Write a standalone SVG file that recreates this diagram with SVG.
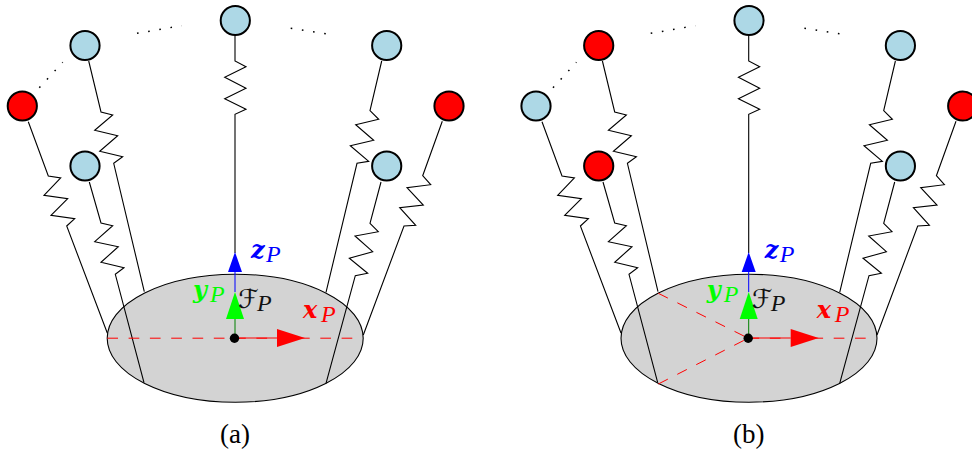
<svg xmlns="http://www.w3.org/2000/svg" width="972" height="454" viewBox="0 0 972 454">
<style>
.sp{fill:none;stroke:#000;stroke-width:1.1;stroke-linejoin:miter}
.dot{fill:none;stroke:#000;stroke-width:1.5;stroke-dasharray:1.6 9.7}
.dash{fill:none;stroke:#f00;stroke-width:1;stroke-dasharray:10.7 10.6}
.base{fill:#d3d3d3;stroke:#000;stroke-width:1.1}
.b{fill:#add8e6;stroke:#000;stroke-width:2}
.r{fill:#f00;stroke:#000;stroke-width:2}
.m{font-family:"DejaVu Serif","Liberation Serif",serif;font-style:italic;font-weight:bold;font-size:24px}
.s{font-family:"Liberation Serif","DejaVu Serif",serif;font-style:italic;font-weight:normal;font-size:24px}
.f{font-family:"DejaVu Sans","Liberation Serif",sans-serif;font-size:26px;fill:#111}
.c{font-family:"Liberation Serif",serif;font-size:27px;text-anchor:middle;fill:#000}
.xc{fill:#f00}.yc{fill:#0f0}.zc{fill:#00f}
</style>

<g id="panel-a-base"><ellipse class="base" cx="235.2" cy="338.2" rx="128" ry="64"/></g>
<g id="connectors-a">
<polyline class="sp" points="28.3,121.7 48.3,176 60.7,178 44,195.3 67.7,198.7 51,215.3 74.7,218.7 66.7,226 107.3,333"/>
<polyline class="sp" points="88.7,61 101,112 112.7,115 94.7,130.3 117.7,135.7 99.7,151.3 122.7,156.7 113.7,163.3 144.3,291.7"/>
<polyline class="sp" points="89.3,182 101,223 112.7,225.7 94.7,241.7 118.3,246.7 101,262.3 124,267.7 115.3,274.3 144,382.7"/>
<polyline class="sp" points="235,35 235,61 246,66.7 224.7,77.3 246,88.3 224.7,98.7 246,109.3 235,114.3 235,253"/>
<polyline class="sp" points="381.7,61 370,110.7 378.7,119.3 355.7,124.7 373.7,140.3 350.3,145.7 368.7,161.3 357,163.3 326,292.3"/>
<polyline class="sp" points="381,182 370,223.3 378.3,231.7 355,236 372.7,251.7 349.3,258.3 367.7,273.3 355.3,275.7 326,383.3"/>
<polyline class="sp" points="442.3,121.3 422.7,175.7 430.7,184.7 407,187.7 423.3,205 399.7,207.7 415.7,225.3 404,226 363.3,335"/>
<line class="dot" x1="39.3" y1="87.7" x2="62.7" y2="62.3"/>
<line class="dot" x1="137" y1="33.3" x2="181.7" y2="25.7"/>
<line class="dot" x1="290.7" y1="28.3" x2="335.3" y2="35.3"/>
<line class="dash" x1="107.3" y1="338.2" x2="353" y2="338.2"/>
</g>
<g id="axes-a">
<line x1="235" y1="272" x2="235" y2="292" stroke="#00f"/>
<polygon class="zc" points="235,252 242,272 228,272"/>
<line x1="235" y1="319" x2="235" y2="338" stroke="#008000"/>
<polygon class="yc" points="235,292 244,319 226,319"/>
<line x1="235" y1="338" x2="277" y2="338" stroke="#f00"/>
<polygon class="xc" points="305,338 277,329 277,347"/>
<circle cx="234.5" cy="338.2" r="4.7" fill="#000"/>
</g>
<g id="a-n1"><circle class="r" cx="22.3" cy="106" r="14.6"/></g>
<g id="a-n2"><circle class="b" cx="85" cy="45.5" r="14.6"/></g>
<g id="a-n3"><circle class="b" cx="85" cy="166" r="14.6"/></g>
<g id="a-n4"><circle class="b" cx="235.3" cy="20.5" r="14.6"/></g>
<g id="a-n5"><circle class="b" cx="386.7" cy="45.5" r="14.6"/></g>
<g id="a-n6"><circle class="b" cx="386.7" cy="166" r="14.6"/></g>
<g id="a-n7"><circle class="r" cx="449" cy="106" r="14.6"/></g>
<g id="a-labels">
<text class="m zc" x="251" y="258">z</text><text class="s zc" x="266" y="262">P</text>
<text class="m yc" x="193" y="298">y</text><text class="s yc" x="210" y="302">P</text>
<text class="m xc" x="303" y="318">x</text><text class="s xc" x="321" y="322">P</text>
<text class="f" x="238" y="308">ℱ</text><text class="s" x="257" y="311" fill="#111">P</text>
<text class="c" x="235" y="443">(a)</text>
</g>

<g id="panel-b-base"><ellipse class="base" cx="749" cy="338.2" rx="128" ry="64"/></g>
<g id="connectors-b" transform="translate(513.7 0)">
<polyline class="sp" points="28.3,121.7 48.3,176 60.7,178 44,195.3 67.7,198.7 51,215.3 74.7,218.7 66.7,226 107.3,333"/>
<polyline class="sp" points="88.7,61 101,112 112.7,115 94.7,130.3 117.7,135.7 99.7,151.3 122.7,156.7 113.7,163.3 144.3,291.7"/>
<polyline class="sp" points="89.3,182 101,223 112.7,225.7 94.7,241.7 118.3,246.7 101,262.3 124,267.7 115.3,274.3 144,382.7"/>
<polyline class="sp" points="235,35 235,61 246,66.7 224.7,77.3 246,88.3 224.7,98.7 246,109.3 235,114.3 235,253"/>
<polyline class="sp" points="381.7,61 370,110.7 378.7,119.3 355.7,124.7 373.7,140.3 350.3,145.7 368.7,161.3 357,163.3 326,292.3"/>
<polyline class="sp" points="381,182 370,223.3 378.3,231.7 355,236 372.7,251.7 349.3,258.3 367.7,273.3 355.3,275.7 326,383.3"/>
<polyline class="sp" points="442.3,121.3 422.7,175.7 430.7,184.7 407,187.7 423.3,205 399.7,207.7 415.7,225.3 404,226 363.3,335"/>
<line class="dot" x1="39.3" y1="87.7" x2="62.7" y2="62.3"/>
<line class="dot" x1="137" y1="33.3" x2="181.7" y2="25.7"/>
<line class="dot" x1="290.7" y1="28.3" x2="335.3" y2="35.3"/>
<line class="dash" x1="234.8" y1="338.2" x2="353" y2="338.2"/>
<line class="dash" x1="144.6" y1="293.3" x2="234.5" y2="338.2"/>
<line class="dash" x1="144.6" y1="384" x2="234.5" y2="338.2"/>
</g>
<g id="axes-b" transform="translate(513.7 0)">
<line x1="235" y1="272" x2="235" y2="292" stroke="#00f"/>
<polygon class="zc" points="235,252 242,272 228,272"/>
<line x1="235" y1="319" x2="235" y2="338" stroke="#008000"/>
<polygon class="yc" points="235,292 244,319 226,319"/>
<line x1="235" y1="338" x2="277" y2="338" stroke="#f00"/>
<polygon class="xc" points="305,338 277,329 277,347"/>
<circle cx="234.5" cy="338.2" r="4.7" fill="#000"/>
</g>
<g id="b-n1"><circle class="b" cx="536" cy="106" r="14.6"/></g>
<g id="b-n2"><circle class="r" cx="598.7" cy="45.5" r="14.6"/></g>
<g id="b-n3"><circle class="r" cx="598.7" cy="166" r="14.6"/></g>
<g id="b-n4"><circle class="b" cx="749" cy="20.5" r="14.6"/></g>
<g id="b-n5"><circle class="b" cx="900.4" cy="45.5" r="14.6"/></g>
<g id="b-n6"><circle class="b" cx="900.4" cy="166" r="14.6"/></g>
<g id="b-n7"><circle class="r" cx="962.7" cy="106" r="14.6"/></g>
<g id="b-labels" transform="translate(513.7 0)">
<text class="m zc" x="251" y="258">z</text><text class="s zc" x="266" y="262">P</text>
<text class="m yc" x="193" y="298">y</text><text class="s yc" x="210" y="302">P</text>
<text class="m xc" x="303" y="318">x</text><text class="s xc" x="321" y="322">P</text>
<text class="f" x="238" y="308">ℱ</text><text class="s" x="257" y="311" fill="#111">P</text>
<text class="c" x="235" y="443">(b)</text>
</g>
</svg>
